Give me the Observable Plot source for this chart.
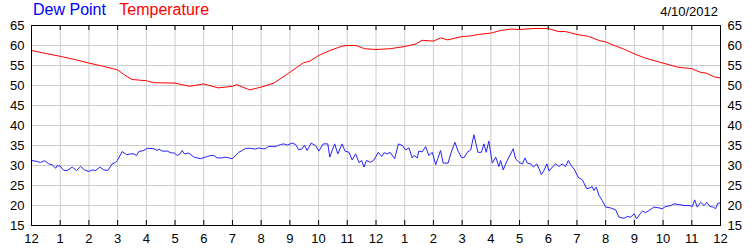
<!DOCTYPE html>
<html><head><meta charset="utf-8">
<script src="https://cdn.jsdelivr.net/npm/d3@7"></script>
<script src="https://cdn.jsdelivr.net/npm/@observablehq/plot@0.6"></script>
<style>
body{margin:0;background:#fff;}
#wrap{position:relative;width:750px;height:250px;font-family:"Liberation Sans",Arial,sans-serif;}
#legend{position:absolute;left:33px;top:1px;font-size:16px;}
#date{position:absolute;right:32px;top:4px;font-size:13px;color:#000;}
</style></head>
<body>
<div id="wrap">
<div id="chart"></div>
<div id="legend"><span style="color:#0000ff">Dew Point</span>&nbsp;&nbsp;&nbsp;<span style="color:#ff0000">Temperature</span></div>
<div id="date">4/10/2012</div>
</div>
<script>
const hourTicks = d3.range(0, 25);
const yTicks = [15,20,25,30,35,40,45,50,55,60,65];
const tempHours = [0,0.5,1,1.5,2,2.5,3,3.25,3.5,4,4.25,5,5.5,6,6.5,7,7.15,7.6,8,8.44,9,9.48,9.7,10,10.4,10.8,11,11.3,11.6,12,12.5,13,13.4,13.6,14,14.25,14.5,15,15.3,15.6,16,16.34,16.7,17,17.5,18,18.35,18.6,19,19.4,19.77,20,20.3,20.6,21,21.4,22,22.5,23,23.3,23.5,23.8,24];
const tempValues = [58.75,58.0,57.3,56.5,55.6,54.8,53.9,52.6,51.5,51.2,50.7,50.6,49.8,50.4,49.4,49.8,50.2,48.9,49.6,50.6,53.3,55.7,56.1,57.5,58.75,59.8,60,60,59.2,59,59.2,59.75,60.4,61.3,61.1,61.9,61.4,62.25,62.4,62.8,63.1,63.75,64.1,64,64.25,64.25,63.5,63.5,62.75,62.3,61.25,60.9,60,59.2,57.9,56.8,55.6,54.6,54.2,53.3,53.1,52.1,51.9];
const dewHours = [0,0.20,0.31,0.46,0.60,0.72,0.84,0.89,0.99,1.13,1.24,1.42,1.57,1.71,1.85,2.00,2.11,2.23,2.38,2.52,2.66,2.81,2.93,2.99,3.16,3.31,3.45,3.57,3.66,3.74,3.91,4.03,4.26,4.38,4.44,4.55,4.73,4.84,4.98,5.08,5.17,5.25,5.33,5.48,5.66,5.89,6.12,6.24,6.35,6.47,6.64,6.76,6.87,6.99,7.11,7.22,7.34,7.46,
7.63,7.80,7.92,8.04,8.15,8.27,8.44,8.56,8.68,8.79,8.91,9.08,9.20,9.31,9.43,9.51,9.60,9.74,9.89,10.01,10.16,10.32,10.39,10.56,10.67,10.82,10.92,11.06,11.17,11.29,11.41,11.50,11.58,11.67,11.81,11.93,12.08,12.20,12.28,12.39,12.49,12.65,12.78,12.92,13.03,13.15,13.26,13.32,13.44,13.49,13.61,13.73,13.84,13.96,14.08,14.25,14.34,14.51,14.62,14.75,14.85,14.97,15.06,15.18,15.30,15.41,15.55,15.67,15.76,15.84,15.93,16.05,16.17,16.28,
16.34,16.43,16.57,16.69,16.78,16.86,16.98,17.10,17.19,17.27,17.39,17.48,17.60,17.68,17.76,17.85,17.95,18.03,18.14,18.26,18.37,18.49,18.60,18.70,18.80,18.92,19.04,19.19,19.34,19.45,19.53,19.59,19.67,19.77,19.88,20.00,20.17,20.35,20.46,20.64,20.75,20.87,20.99,21.08,21.20,21.28,21.39,21.51,21.68,21.86,21.97,22.09,22.27,22.38,22.56,22.73,22.90,23.02,23.10,23.19,23.31,23.43,23.52,23.63,23.75,23.83,23.91,23.98,24.00];
const dewValues = [31.25,31.0,30.75,31.2,30.4,30.2,29.3,29.9,29.9,28.75,28.75,29.6,28.75,29.75,28.9,28.5,28.9,28.75,29.6,28.9,28.75,30.4,30.8,31.25,33.5,32.7,32.9,32.9,32.5,33.5,33.75,34.3,34.2,33.75,34.1,33.6,33.6,33.2,33.1,32.5,32.9,33.75,32.9,33.1,32.1,31.7,32.25,32.5,32.5,31.9,31.9,32.1,31.9,31.7,32.5,33.3,33.75,34.3,
34.3,34.1,34.4,34.2,34.2,34.8,34.7,34.9,35.25,35.4,35.1,35.6,35.25,33.9,34.2,35.1,33.75,35.6,35.0,33.6,35.4,35.4,32.1,35.4,32.9,35.4,33.6,33.3,31.4,32.9,30.7,31.25,29.6,31.25,30.8,31.4,33.3,32.25,33.2,32.9,33.3,31.7,35.4,35.0,33.9,34.4,31.9,32.5,31.9,33.6,33.4,34.75,32.5,33.3,30.2,33.75,30.6,30.6,33.3,35.8,33.75,32.1,31.9,33.3,33.9,37.7,33.3,33.3,35.4,33.3,36.1,30.6,32.1,29.75,
31.25,28.9,31.25,32.9,34.2,31.7,30.8,30.4,31.9,30.6,30.4,29.6,30.4,29.2,27.75,28.75,30.4,28.6,29.6,30.4,29.75,30.4,29.75,31.25,30.0,28.9,27.1,26.4,24.2,24.4,24.75,23.75,24.6,22.5,21.25,19.6,19.4,18.9,17.1,16.8,17.25,17.1,17.9,16.7,17.9,18.6,18.2,18.75,19.6,19.4,19.2,19.75,20.0,20.4,20.25,20.0,20.0,19.75,21.4,19.6,20.8,20.0,20.8,19.75,19.6,19.2,20.6,20.6,20.8];

const temp = tempHours.map((h,i)=>({h, v: tempValues[i]}));
const dew = dewHours.map((h,i)=>({h, v: dewValues[i]}));
const fmtHour = h => String(((h + 11) % 12) + 1);

const chart = Plot.plot({
  width: 750, height: 250,
  marginLeft: 31, marginRight: 30, marginTop: 25, marginBottom: 25,
  style: {fontFamily: '"Liberation Sans", Arial, sans-serif', fontSize: "13px", color: "#000", background: "#fff"},
  x: {domain: [0, 24]},
  y: {domain: [15, 65]},
  marks: [
    Plot.gridX(hourTicks, {stroke: "#cccccc", strokeOpacity: 1}),
    Plot.gridY(yTicks, {stroke: "#cccccc", strokeOpacity: 1}),
    Plot.axisX(hourTicks, {anchor: "bottom", tickSize: 0, tickPadding: 8, tickFormat: fmtHour, label: null, fontSize: 13}),
    Plot.axisY(yTicks, {anchor: "left", tickSize: 0, tickPadding: 7, label: null, fontSize: 13}),
    Plot.axisY(yTicks, {anchor: "right", tickSize: 0, tickPadding: 7, label: null, fontSize: 13}),
    Plot.tickX(hourTicks, {x: d => d, stroke: "#000", insetTop: 195}),
    Plot.tickX(hourTicks, {x: d => d, stroke: "#000", insetBottom: 195}),
    Plot.line(temp, {x: "h", y: "v", stroke: "#ff0000", strokeWidth: 1}),
    Plot.line(dew, {x: "h", y: "v", stroke: "#2222ff", strokeWidth: 1}),
    Plot.frame({stroke: "#000"})
  ]
});
document.getElementById("chart").appendChild(chart);
</script>
</body></html>
